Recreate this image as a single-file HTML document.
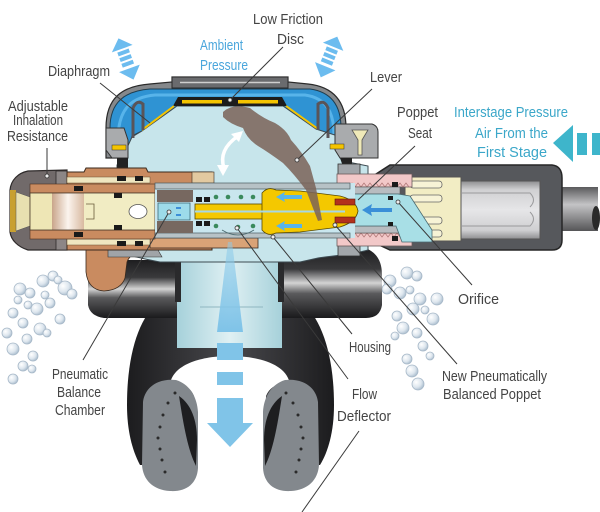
<!DOCTYPE html>
<html><head><meta charset="utf-8"><style>
html,body{margin:0;padding:0;background:#fff;}
svg{display:block;}
text{font-family:"Liberation Sans",sans-serif;font-size:14.5px;fill:#444;}
</style></head><body>
<svg width="600" height="512" viewBox="0 0 600 512" xmlns="http://www.w3.org/2000/svg">
<defs>
 <radialGradient id="bub" cx="0.35" cy="0.35" r="0.7">
  <stop offset="0" stop-color="#ffffff"/>
  <stop offset="0.6" stop-color="#dde6ee"/>
  <stop offset="1" stop-color="#a9bccd"/>
 </radialGradient>
 <linearGradient id="exh" x1="0" y1="0" x2="0" y2="1">
  <stop offset="0" stop-color="#1e1e20"/>
  <stop offset="0.3" stop-color="#3a3a3c"/>
  <stop offset="0.5" stop-color="#d4d4d4"/>
  <stop offset="0.65" stop-color="#5a5a5c"/>
  <stop offset="1" stop-color="#1a1a1c"/>
 </linearGradient>
 <linearGradient id="mouth" x1="0" y1="0" x2="1" y2="0">
  <stop offset="0" stop-color="#1c1c1e"/>
  <stop offset="0.5" stop-color="#48484c"/>
  <stop offset="1" stop-color="#1c1c1e"/>
 </linearGradient>
 <linearGradient id="neck" x1="0" y1="0" x2="1" y2="0">
  <stop offset="0" stop-color="#a6d1da"/>
  <stop offset="0.5" stop-color="#dff0f3"/>
  <stop offset="1" stop-color="#a6d1da"/>
 </linearGradient>
 <linearGradient id="hose" x1="0" y1="0" x2="0" y2="1">
  <stop offset="0" stop-color="#5a5a5c"/>
  <stop offset="0.4" stop-color="#c4c4c6"/>
  <stop offset="1" stop-color="#555557"/>
 </linearGradient>
 <linearGradient id="nut" x1="0" y1="0" x2="0" y2="1">
  <stop offset="0" stop-color="#8e8e90"/>
  <stop offset="0.15" stop-color="#d0d0d2"/>
  <stop offset="0.5" stop-color="#e6e6e8"/>
  <stop offset="0.85" stop-color="#cfcfd1"/>
  <stop offset="1" stop-color="#8e8e90"/>
 </linearGradient>
 <linearGradient id="bore" x1="0" y1="0" x2="1" y2="0">
  <stop offset="0" stop-color="#c9a58a"/>
  <stop offset="0.5" stop-color="#fbf4ee"/>
  <stop offset="1" stop-color="#d8b9a0"/>
 </linearGradient>
 <linearGradient id="down" x1="0" y1="0" x2="0" y2="1">
  <stop offset="0" stop-color="#8ccbea" stop-opacity="0.5"/>
  <stop offset="1" stop-color="#7fc3e8"/>
 </linearGradient>
</defs>

<rect width="600" height="512" fill="#fff"/>

<!-- bubbles -->
<g fill="url(#bub)" stroke="#a7b8c8" stroke-width="0.8">
<circle cx="20" cy="289" r="6"/><circle cx="30" cy="293" r="5"/><circle cx="43" cy="281" r="6"/><circle cx="53" cy="276" r="5"/>
<circle cx="65" cy="288" r="7"/><circle cx="72" cy="294" r="5"/><circle cx="37" cy="309" r="6"/><circle cx="50" cy="303" r="5"/>
<circle cx="60" cy="319" r="5"/><circle cx="13" cy="313" r="5"/><circle cx="23" cy="323" r="5"/><circle cx="40" cy="329" r="6"/>
<circle cx="27" cy="339" r="5"/><circle cx="13" cy="349" r="6"/><circle cx="33" cy="356" r="5"/><circle cx="23" cy="366" r="5"/>
<circle cx="13" cy="379" r="5"/><circle cx="32" cy="369" r="4"/><circle cx="47" cy="333" r="4"/><circle cx="7" cy="333" r="5"/>
<circle cx="58" cy="280" r="4"/><circle cx="45" cy="295" r="4"/><circle cx="28" cy="305" r="4"/><circle cx="18" cy="300" r="4"/>
<circle cx="390" cy="281" r="6"/><circle cx="407" cy="273" r="6"/><circle cx="417" cy="276" r="5"/><circle cx="400" cy="293" r="6"/>
<circle cx="420" cy="299" r="6"/><circle cx="437" cy="299" r="6"/><circle cx="433" cy="319" r="6"/><circle cx="413" cy="309" r="6"/>
<circle cx="397" cy="316" r="5"/><circle cx="403" cy="328" r="6"/><circle cx="417" cy="333" r="5"/><circle cx="423" cy="346" r="5"/>
<circle cx="430" cy="356" r="4"/><circle cx="407" cy="359" r="5"/><circle cx="412" cy="371" r="6"/><circle cx="418" cy="384" r="6"/>
<circle cx="395" cy="336" r="4"/><circle cx="387" cy="289" r="5"/><circle cx="425" cy="310" r="4"/><circle cx="410" cy="290" r="4"/>
</g>

<!-- mouthpiece body -->
<path d="M160,300 L300,300 C322,318 334,356 334,405 C334,432 328,452 320,465 L140,465 C132,450 127,430 127,405 C127,356 138,318 160,300 Z" fill="url(#mouth)"/>
<path d="M170,385 C172,365 200,356 230,356 C260,356 288,365 290,385 C280,382 270,386 266,396 L264,512 L196,512 L194,396 C190,386 180,382 170,385 Z" fill="#fff"/>
<!-- tabs -->
<g>
<path d="M143,402 C145,386 160,378 176,380 C189,384 197,396 198,412 L198,468 C197,484 186,492 170,491 C153,490 143,480 142,465 Z" fill="#83888d"/>
<path d="M179,396 C191,404 197,420 197,440 L196,466 C188,450 184,428 179,396 Z" fill="#1e1e20"/>
<g fill="#2a2a2a"><circle cx="175" cy="393" r="1.5"/><circle cx="168" cy="403" r="1.5"/><circle cx="163" cy="415" r="1.5"/><circle cx="160" cy="427" r="1.5"/><circle cx="158" cy="438" r="1.5"/><circle cx="160" cy="449" r="1.5"/><circle cx="162" cy="460" r="1.5"/><circle cx="165" cy="472" r="1.5"/></g>
</g>
<g transform="translate(461,0) scale(-1,1)">
<path d="M143,402 C145,386 160,378 176,380 C189,384 197,396 198,412 L198,468 C197,484 186,492 170,491 C153,490 143,480 142,465 Z" fill="#83888d"/>
<path d="M179,396 C191,404 197,420 197,440 L196,466 C188,450 184,428 179,396 Z" fill="#1e1e20"/>
<g fill="#2a2a2a"><circle cx="175" cy="393" r="1.5"/><circle cx="168" cy="403" r="1.5"/><circle cx="163" cy="415" r="1.5"/><circle cx="160" cy="427" r="1.5"/><circle cx="158" cy="438" r="1.5"/><circle cx="160" cy="449" r="1.5"/><circle cx="162" cy="460" r="1.5"/><circle cx="165" cy="472" r="1.5"/></g>
</g>

<!-- exhaust tees -->
<path d="M88,268 Q90,260 102,260 L178,260 L178,318 L104,318 Q90,316 88,305 Z" fill="url(#exh)"/>
<path d="M282,250 L365,248 Q382,254 382,275 L382,305 Q380,318 366,318 L282,318 Z" fill="url(#exh)"/>

<!-- neck -->
<rect x="177" y="250" width="105" height="98" fill="url(#neck)"/>
<rect x="175" y="262" width="6" height="40" fill="#2a2a2c"/>
<rect x="278" y="262" width="6" height="40" fill="#2a2a2c"/>
<line x1="200" y1="307" x2="263" y2="307" stroke="#8fb6c0" stroke-width="1"/>

<!-- dome -->
<path d="M106,158 L106,128 C106,98 122,86 150,84 L172,82 L172,77 L288,77 L288,82 L308,84 C336,87 346,104 346,128 L346,152 L335,152 L335,158 Z" fill="#85888b" stroke="#2a2a2a" stroke-width="1.2"/>
<path d="M110,150 L110,128 C110,102 125,91 150,89 L310,89 C332,92 341,106 341,128 L341,148 L330,148 L326,134 L316,129 L283,106 L177,106 L142,131 L132,136 L128,150 Z" fill="#2f93d3" stroke="#1f3e50" stroke-width="1"/>
<path d="M118,140 C118,108 132,97 155,95 L305,95 C326,98 334,112 334,135" fill="none" stroke="#58b4ea" stroke-width="3"/>
<rect x="172" y="77" width="116" height="11" fill="#6a6b6e" stroke="#2a2a2a" stroke-width="1"/>
<line x1="180" y1="82.5" x2="280" y2="82.5" stroke="#cfcfcf" stroke-width="1.5"/>

<!-- chamber -->
<path d="M177,106 L283,106 L316,129 L338,136 L342,150 L348,162 L368,166 L368,250 C350,255 330,256 318,258 L300,262 L160,262 C140,258 125,255 117,250 L117,165 L126,150 L132,137 L142,131 Z" fill="#c7e5eb" stroke="#3d4b52" stroke-width="1"/>

<path d="M178,97 L282,97 L287,106 L173,106 Z" fill="#1c1c1c"/>
<rect x="182" y="100" width="40" height="3.5" fill="#f4c400"/>
<rect x="238" y="100" width="40" height="3.5" fill="#f4c400"/>
<line x1="174" y1="106" x2="142" y2="130" stroke="#f4c400" stroke-width="2"/>
<line x1="286" y1="106" x2="318" y2="129" stroke="#f4c400" stroke-width="2"/>
<path d="M133,138 L133,108 Q137,99 143,104 L143,130" fill="none" stroke="#5a5458" stroke-width="3"/>
<path d="M318,130 L318,104 Q324,99 328,108 L328,138" fill="none" stroke="#5a5458" stroke-width="3"/>
<!-- clips -->
<path d="M106,128 L124,128 L128,140 L128,158 L112,158 L106,150 Z" fill="#a9abad" stroke="#333" stroke-width="1"/>
<rect x="112" y="145" width="14" height="5" fill="#f4c400" stroke="#333" stroke-width="0.5"/>
<path d="M117,158 L128,158 L128,170 L117,170 Z" fill="#222"/>
<path d="M335,124 L372,124 Q378,126 378,132 L378,158 L340,158 L335,150 Z" fill="#a9abad" stroke="#333" stroke-width="1"/>
<path d="M352,130 L368,130 L362,140 L362,155 L358,155 L358,140 Z" fill="#efe9b8" stroke="#555" stroke-width="0.8"/>
<rect x="330" y="144" width="14" height="5" fill="#f4c400" stroke="#333" stroke-width="0.5"/>
<path d="M340,158 L352,158 L352,172 L345,172 Z" fill="#222"/>

<!-- hose -->
<rect x="555" y="187" width="43" height="44" fill="url(#hose)"/>
<ellipse cx="596" cy="218" rx="4" ry="12" fill="#2a2a2a"/>
<path d="M373,176 L390,165 L552,165 Q562,166 562,178 L562,240 Q562,250 552,250 L390,250 L375,243 Z" fill="#56585c" stroke="#262626" stroke-width="1.5"/>
<rect x="460" y="181" width="80" height="58" fill="url(#nut)" stroke="#555" stroke-width="1"/>
<path d="M462,193 L530,193 Q537,200 530,207 M462,226 L530,226 Q537,219 530,212" fill="none" stroke="#9a9a9c" stroke-width="1"/>
<rect x="405" y="177" width="56" height="64" fill="#f2edc4" stroke="#555" stroke-width="1"/>
<g fill="#f7f3d6" stroke="#666" stroke-width="0.8">
<rect x="410" y="181" width="32" height="7" rx="3"/><rect x="410" y="195" width="32" height="7" rx="3"/>
<rect x="410" y="217" width="32" height="7" rx="3"/><rect x="410" y="230" width="32" height="7" rx="3"/>
</g>
<rect x="338" y="164" width="22" height="92" fill="#a2a6aa" stroke="#333" stroke-width="0.8"/>
<rect x="337" y="174" width="75" height="13" fill="#f2c8c8" stroke="#6a5a5a" stroke-width="0.8"/>
<polyline points="337,187 340,183 343,187 346,183 349,187 352,183 355,187 358,183 361,187 364,183 367,187 370,183 373,187 376,183 379,187 382,183 385,187 388,183 391,187 394,183 397,187 400,183 403,187 406,183 409,187" fill="none" stroke="#b07878" stroke-width="0.8"/>
<rect x="337" y="233" width="75" height="13" fill="#f2c8c8" stroke="#6a5a5a" stroke-width="0.8"/>
<polyline points="337,233 340,237 343,233 346,237 349,233 352,237 355,233 358,237 361,233 364,237 367,233 370,237 373,233 376,237 379,233 382,237 385,233 388,237 391,233 394,237 397,233 400,237 403,233 406,237 409,233" fill="none" stroke="#b07878" stroke-width="0.8"/>
<rect x="350" y="187" width="50" height="7" fill="#b8bcc0" stroke="#555" stroke-width="0.6"/>
<rect x="350" y="226" width="50" height="7" fill="#b8bcc0" stroke="#555" stroke-width="0.6"/>
<path d="M350,194 L398,194 L410,196 L432,230 L432,242 L402,242 L396,226 L350,226 Z" fill="#a8dfe6" stroke="#4a6a70" stroke-width="0.8"/>
<path d="M362,210 L372,204 L371,208 L392,208 L392,212 L371,212 L372,216 Z" fill="#3a8fd8"/>
<g fill="#1a1a1a"><rect x="392" y="182" width="6" height="5"/><rect x="392" y="236" width="6" height="5"/><rect x="388" y="196" width="5" height="4"/><rect x="388" y="222" width="5" height="4"/></g>

<!-- left knob -->
<path d="M28,171 L67,170 L67,250 L28,250 C18,247 11,240 10,232 L10,190 C11,180 18,173 28,171 Z" fill="#716a6a" stroke="#2e2a2a" stroke-width="1.2"/>
<rect x="56" y="171" width="11" height="79" fill="#8c8686" stroke="#2e2a2a" stroke-width="0.8"/>
<rect x="10" y="190" width="6" height="42" fill="#c8a030"/>
<path d="M16,192 L30,197 L30,226 L16,231 Z" fill="#e8e0b0" stroke="#555" stroke-width="0.5"/>
<path d="M86,246 L86,272 Q88,290 104,291 Q121,290 125,278 L127,262 Q130,253 145,250 Z" fill="#c98b60" stroke="#3a2a1e" stroke-width="0.8"/>
<path d="M108,250 L158,250 L162,257 L108,257 Z" fill="#a0a4a8" stroke="#333" stroke-width="0.6"/>
<path d="M67,172 L84,172 L86,168 L146,168 L148,172 L212,172 L212,250 L67,250 Z" fill="#c98b60" stroke="#3a2a1e" stroke-width="1"/>
<rect x="150" y="238" width="108" height="10" fill="#d9a377" stroke="#3a2a1e" stroke-width="0.8"/>
<rect x="192" y="172" width="22" height="11" fill="#e2c9a0" stroke="#3a2a1e" stroke-width="0.6"/>
<rect x="67" y="177" width="83" height="6" fill="#efe6c0" stroke="#6a5030" stroke-width="0.5"/>
<rect x="67" y="239" width="83" height="6" fill="#efe6c0" stroke="#6a5030" stroke-width="0.5"/>
<rect x="30" y="184" width="125" height="9" fill="#c98b60" stroke="#4a3020" stroke-width="0.6"/>
<rect x="30" y="230" width="125" height="9" fill="#c98b60" stroke="#4a3020" stroke-width="0.6"/>
<rect x="30" y="193" width="22" height="37" fill="#eee6b5"/>
<rect x="52" y="193" width="32" height="37" fill="url(#bore)"/>
<rect x="84" y="193" width="71" height="37" fill="#f1ecc3"/>
<rect x="30" y="193" width="125" height="37" fill="none" stroke="#4a3a2a" stroke-width="0.8"/>
<path d="M86,204 L94,204 L94,219 L86,219" fill="none" stroke="#6a5a3a" stroke-width="0.8"/>
<ellipse cx="138" cy="211.5" rx="9" ry="7" fill="#fff" stroke="#555" stroke-width="0.8"/>
<g fill="#1a1a1a">
<rect x="114" y="193" width="8" height="5"/><rect x="114" y="225" width="8" height="5"/>
<rect x="74" y="186" width="9" height="5"/><rect x="74" y="232" width="9" height="5"/>
<rect x="117" y="176" width="9" height="5"/><rect x="135" y="176" width="8" height="5"/>
<rect x="117" y="241" width="9" height="5"/><rect x="135" y="241" width="8" height="5"/>
</g>

<!-- middle tube -->
<rect x="155" y="183" width="200" height="55" fill="#c9e6ee"/>
<rect x="155" y="183" width="195" height="6" fill="#b7c2c6" stroke="#4a5a60" stroke-width="0.7"/>
<rect x="155" y="233" width="195" height="5" fill="#b7c2c6" stroke="#4a5a60" stroke-width="0.7"/>
<rect x="157" y="190" width="36" height="12" fill="#776860"/>
<rect x="157" y="221" width="36" height="12" fill="#776860"/>
<rect x="158" y="203" width="32" height="17" fill="#9ddbea" stroke="#3d6a78" stroke-width="0.8"/>
<rect x="176" y="207" width="5" height="2" fill="#3d8fd8"/><rect x="176" y="214" width="5" height="2" fill="#3d8fd8"/>
<g fill="#1a1a1a"><rect x="196" y="197" width="6" height="5"/><rect x="204" y="197" width="6" height="5"/><rect x="196" y="221" width="6" height="5"/><rect x="204" y="221" width="6" height="5"/></g>
<g fill="#3a8a5c"><circle cx="216" cy="197" r="2.3"/><circle cx="228" cy="197" r="2.3"/><circle cx="241" cy="197" r="2.3"/><circle cx="253" cy="197" r="2.3"/><circle cx="216" cy="226" r="2.3"/><circle cx="238" cy="227" r="2.3"/><circle cx="253" cy="226" r="2.3"/></g>
<path d="M222,230 Q238,240 254,230" fill="none" stroke="#4a6a70" stroke-width="0.8"/>
<rect x="195" y="204" width="70" height="15" fill="#f4c800" stroke="#5a4a00" stroke-width="0.8"/>
<path d="M262,204 L262,193 Q268,186 276,190 L300,191 L340,196 Q356,200 358,211 Q356,222 340,227 L300,232 L276,233 Q268,237 262,230 L262,218 Z" fill="#f4c800" stroke="#5a4a00" stroke-width="0.8"/>
<line x1="195" y1="211.5" x2="345" y2="211.5" stroke="#a6d7e8" stroke-width="2"/>
<rect x="335" y="199" width="20" height="6" fill="#b3311c" stroke="#5a1a10" stroke-width="0.6"/>
<rect x="335" y="217" width="20" height="6" fill="#b3311c" stroke="#5a1a10" stroke-width="0.6"/>
<path d="M276,197 L285,192 L284,195 L302,195 L302,199 L284,199 L285,202 Z" fill="#59b4ea"/>
<path d="M276,226 L285,221 L284,224 L302,224 L302,228 L284,228 L285,231 Z" fill="#59b4ea"/>

<!-- lever -->
<path d="M223,112 Q232,103 250,108 Q262,118 275,123 Q287,130 291,140 Q302,152 310,166 L316,188 L322,220 L318,221 L306,190 Q294,174 283,163 Q268,152 258,146 Q247,139 243,128 Q230,124 223,117 Z" fill="#7a6358" fill-opacity="0.85"/>

<!-- white curved arrow -->
<path d="M238,136 Q218,150 224,168" fill="none" stroke="#fff" stroke-width="3.5"/>
<polygon points="243,131 231,134 239,142" fill="#fff"/>
<polygon points="223,176 217,165 229,165" fill="#fff"/>

<!-- down arrow -->
<path d="M228,242 L232,242 L243,332 L217,332 Z" fill="url(#down)"/>
<g fill="#80c4e8">
<rect x="217" y="343" width="26" height="17"/>
<rect x="217" y="372" width="26" height="13"/>
<rect x="217" y="398" width="26" height="25"/>
<polygon points="207,423 253,423 230,447"/>
</g>

<!-- top arrows -->
<g transform="translate(126,59) rotate(-20)" fill="#6cbcef">
<polygon points="0,-22 -11,-11 11,-11"/>
<rect x="-6" y="-9" width="12" height="4"/><rect x="-6" y="-3" width="12" height="4"/><rect x="-6" y="3" width="12" height="4"/>
<polygon points="0,22 -11,10 11,10"/>
</g>
<g transform="translate(329,57) rotate(22)" fill="#6cbcef">
<polygon points="0,-22 -11,-11 11,-11"/>
<rect x="-6" y="-9" width="12" height="4"/><rect x="-6" y="-3" width="12" height="4"/><rect x="-6" y="3" width="12" height="4"/>
<polygon points="0,22 -11,10 11,10"/>
</g>
<g fill="#3eb5cb">
<polygon points="553,143 573,125 573,162"/>
<rect x="577" y="133" width="10" height="22"/>
<rect x="592" y="133" width="8" height="22"/>
</g>

<!-- leader lines -->
<g stroke="#3a3a3a" stroke-width="1" fill="none">
<line x1="283" y1="47" x2="230" y2="100"/>
<line x1="100" y1="83" x2="150" y2="123"/>
<line x1="47" y1="148" x2="47" y2="174"/>
<line x1="372" y1="89" x2="297" y2="160"/>
<line x1="415" y1="146" x2="358" y2="200"/>
<line x1="398" y1="202" x2="472" y2="285"/>
<line x1="335" y1="225" x2="457" y2="364"/>
<line x1="273" y1="237" x2="352" y2="334"/>
<line x1="237" y1="228" x2="348" y2="379"/>
<line x1="169" y1="212" x2="83" y2="360"/>
<line x1="359" y1="431" x2="302" y2="512"/>
</g>
<g fill="#eee" stroke="#333" stroke-width="0.8">
<circle cx="230" cy="100" r="2"/><circle cx="47" cy="176" r="2"/><circle cx="297" cy="160" r="2"/>
<circle cx="398" cy="202" r="2"/><circle cx="335" cy="225" r="2"/><circle cx="273" cy="237" r="2"/>
<circle cx="237" cy="228" r="2"/><circle cx="169" cy="212" r="2"/>
</g>

<!-- labels -->
<text x="253" y="24" textLength="70" lengthAdjust="spacingAndGlyphs">Low Friction</text>
<text x="277" y="44" textLength="27" lengthAdjust="spacingAndGlyphs">Disc</text>
<text x="200" y="50" textLength="43" lengthAdjust="spacingAndGlyphs" style="fill:#4aa6dc">Ambient</text>
<text x="200" y="70" textLength="48" lengthAdjust="spacingAndGlyphs" style="fill:#4aa6dc">Pressure</text>
<text x="48" y="76" textLength="62" lengthAdjust="spacingAndGlyphs">Diaphragm</text>
<text x="8" y="111" textLength="60" lengthAdjust="spacingAndGlyphs">Adjustable</text>
<text x="13" y="125" textLength="50" lengthAdjust="spacingAndGlyphs">Inhalation</text>
<text x="7" y="141" textLength="61" lengthAdjust="spacingAndGlyphs">Resistance</text>
<text x="370" y="82" textLength="32" lengthAdjust="spacingAndGlyphs">Lever</text>
<text x="397" y="117" textLength="41" lengthAdjust="spacingAndGlyphs">Poppet</text>
<text x="408" y="138" textLength="24" lengthAdjust="spacingAndGlyphs">Seat</text>
<text x="454" y="117" textLength="114" lengthAdjust="spacingAndGlyphs" style="fill:#3ba7c9">Interstage Pressure</text>
<text x="475" y="138" textLength="73" lengthAdjust="spacingAndGlyphs" style="fill:#3ba7c9">Air From the</text>
<text x="477" y="157" textLength="70" lengthAdjust="spacingAndGlyphs" style="fill:#3ba7c9">First Stage</text>
<text x="458" y="304" textLength="41" lengthAdjust="spacingAndGlyphs">Orifice</text>
<text x="349" y="352" textLength="42" lengthAdjust="spacingAndGlyphs">Housing</text>
<text x="442" y="381" textLength="105" lengthAdjust="spacingAndGlyphs">New Pneumatically</text>
<text x="443" y="399" textLength="98" lengthAdjust="spacingAndGlyphs">Balanced Poppet</text>
<text x="352" y="399" textLength="25" lengthAdjust="spacingAndGlyphs">Flow</text>
<text x="337" y="421" textLength="54" lengthAdjust="spacingAndGlyphs">Deflector</text>
<text x="52" y="379" textLength="56" lengthAdjust="spacingAndGlyphs">Pneumatic</text>
<text x="57" y="397" textLength="44" lengthAdjust="spacingAndGlyphs">Balance</text>
<text x="55" y="415" textLength="50" lengthAdjust="spacingAndGlyphs">Chamber</text>
</svg>
</body></html>
